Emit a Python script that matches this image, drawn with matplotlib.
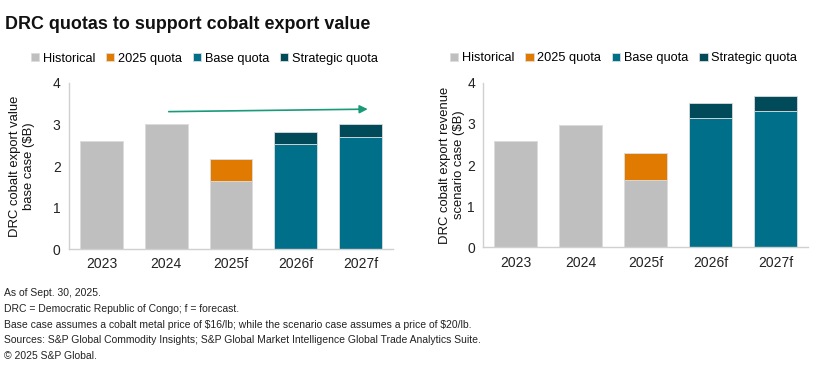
import matplotlib.pyplot as plt
import numpy as np

plt.rcParams['font.family'] = ['Liberation Sans', 'DejaVu Sans']

annees = ["2023", "2024", "2025f", "2026f", "2027f"]

# cas de base
hist_base = [2.6, 3.0, 1.64, 0, 0]
quota25_base = [0, 0, 0.54, 0, 0]
base_base = [0, 0, 0, 2.52, 2.70]
strat_base = [0, 0, 0, 0.29, 0.30]

# cas scenario
hist_scen = [2.58, 2.98, 1.64, 0, 0]
quota25_scen = [0, 0, 0.66, 0, 0]
base_scen = [0, 0, 0, 3.15, 3.32]
strat_scen = [0, 0, 0, 0.35, 0.36]

series_noms = ["Historical", "2025 quota", "Base quota", "Strategic quota"]
couleurs = ["#BFBFBF", "#E07A00", "#006F8A", "#004A5A"]

notes = [
    "As of Sept. 30, 2025.",
    "DRC = Democratic Republic of Congo; f = forecast.",
    "Base case assumes a cobalt metal price of \\$16/lb; while the scenario case assumes a price of \\$20/lb.",
    "Sources: S&P Global Commodity Insights; S&P Global Market Intelligence Global Trade Analytics Suite.",
    "\u00a9 2025 S&P Global.",
]


def tracer(ax, series, ylabel, xlabel_pos, leg_x, fleche, couleur_fleche):
    x = np.arange(len(annees))
    bas = np.zeros(len(annees))
    for vals, nom, c in zip(series, series_noms, couleurs):
        vals = np.array(vals, dtype=float)
        ax.bar(x, vals, 0.66, bottom=bas, color=c, label=nom,
               edgecolor="#dcdcdc", linewidth=0.6)
        bas += vals
    ax.set_xlim(-0.5, len(annees) - 0.5)
    ax.set_ylim(0, 4)
    ax.set_yticks(range(5))
    ax.set_xticks(x)
    ax.set_xticklabels(annees)
    ax.tick_params(length=0, labelsize=10, colors="#222222", pad=6)
    for s in ["top", "right"]:
        ax.spines[s].set_visible(False)
    for s in ["left", "bottom"]:
        ax.spines[s].set_color("#d0d0d0")
        ax.spines[s].set_linewidth(1)
    ax.set_ylabel(ylabel, fontsize=9.4, color="#111111", linespacing=1.15)
    ax.yaxis.set_label_coords(xlabel_pos, 0.5)
    (x0, y0), (x1, y1) = fleche
    ax.annotate("", xy=(x1, y1), xytext=(x0, y0),
                arrowprops=dict(arrowstyle="-|>", color=couleur_fleche,
                                lw=1.2, mutation_scale=12, shrinkA=0, shrinkB=0))
    ax.legend(loc="lower center", bbox_to_anchor=(leg_x, 1.08), ncol=4,
              frameon=False, fontsize=9.2, handlelength=0.65, handleheight=0.65,
              handletextpad=0.3, columnspacing=0.85, borderaxespad=0)


fig = plt.figure(figsize=(8.3, 3.72), dpi=100)
ax1 = fig.add_axes([0.0831, 0.3306, 0.3904, 0.4463])
ax2 = fig.add_axes([0.5823, 0.3352, 0.3912, 0.4425])

tracer(ax1, [hist_base, quota25_base, base_base, strat_base],
       "DRC cobalt export value\nbase case ($B)", -0.106, 0.418,
       ((1.04, 3.31), (4.11, 3.37)), "#1A9A78")
tracer(ax2, [hist_scen, quota25_scen, base_scen, strat_scen],
       "DRC cobalt export revenue\nscenario case ($B)", -0.057, 0.432,
       ((1.14, 3.30), (4.19, 4.02)), "#0E6E8C")

fig.text(0.006, 0.922, "DRC quotas to support cobalt export value",
         fontsize=12.9, fontweight="bold", color="#111111", va="baseline")

for i, ligne in enumerate(notes):
    fig.text(0.005, 1 - (293 + i * 15.8) / 372, ligne, fontsize=7.5,
             color="#222222", va="center")

fig.savefig("out.png", dpi=100, facecolor="white")
